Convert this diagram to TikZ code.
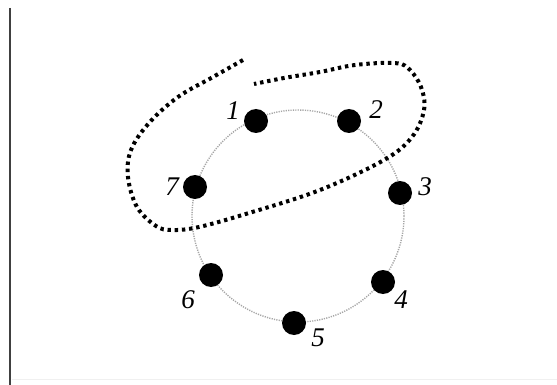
\documentclass[tikz,border=0pt]{standalone}
\usepackage{fontspec}
\setmainfont{Liberation Serif}
\begin{document}
\begin{tikzpicture}[x=1pt,y=-1pt,
  vertex/.style={circle,fill=black,inner sep=0pt,minimum size=24pt},
  lab/.style={font=\fontsize{27}{27}\selectfont\itshape,inner sep=0pt},
  ring/.style={gray!70,line width=1.4pt,dash pattern=on 1.2pt off 1.2pt},
  loop/.style={black,line width=4pt,dash pattern=on 3.4pt off 3.8pt}]
\useasboundingbox (0,0) rectangle (557,385);
\fill[white] (0,0) rectangle (557,385);
\draw[black!75,line width=2.6pt] (10,8) -- (10,385);
\draw[gray!12,line width=1pt] (12,379) -- (557,379);
\coordinate (c) at (298,216);
\draw[ring] (c) circle[radius=106];
\node[vertex] (v1) at (256,121) {};
\node[vertex] (v2) at (349,121) {};
\node[vertex] (v3) at (400,193) {};
\node[vertex] (v4) at (383,282) {};
\node[vertex] (v5) at (294,323) {};
\node[vertex] (v6) at (211,275) {};
\node[vertex] (v7) at (195,187) {};
\node[lab] (l1) at (233,111) {1};
\node[lab] (l2) at (376,110) {2};
\node[lab] (l3) at (425,187) {3};
\node[lab] (l4) at (401,300) {4};
\node[lab] (l5) at (318,338) {5};
\node[lab] (l6) at (188,300) {6};
\node[lab] (l7) at (172,187) {7};
\draw[loop] plot[smooth,tension=0.6] coordinates {(243,60) (213,77) (178,97) (149,123) (131,150) (128,177) (137,207) (156,226) (172,230) (199,227) (249,213) (320,190) (384,160) (412,137) (424,110) (421,87) (408,68) (393,63) (355,65) (320,72) (284,78) (254,84)};
\end{tikzpicture}
\end{document}
